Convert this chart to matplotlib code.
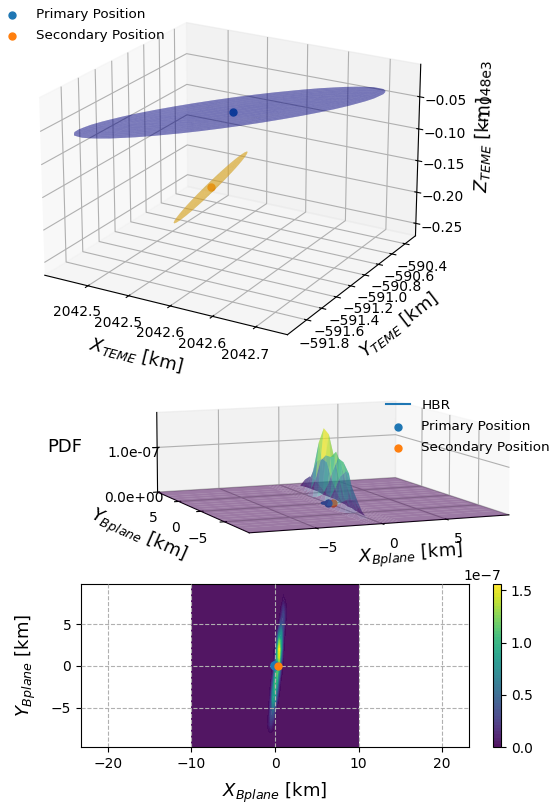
import numpy as np
import matplotlib
matplotlib.use("Agg")
import matplotlib.pyplot as plt
from matplotlib.ticker import FormatStrFormatter, ScalarFormatter

# ---- data ----
primary_teme = [2042.591, -591.15, -1048.047]
secondary_teme = [2042.5765, -591.29, -1048.156]
# ellipsoid semi-axis vectors in km
primary_axes = [[0.105, 0.875, 0.0], [0.0, 0.0, 0.018], [0.03, -0.01, 0.0]]
secondary_axes = [[0.02, 0.264, 0.041], [0.0, 0.028, -0.004], [0.006, -0.02, 0.0]]
x_ticks = [2042.50, 2042.55, 2042.60, 2042.65, 2042.70]
x_labels = ["2042.5", "2042.5", "2042.6", "2042.6", "2042.7"]
y_ticks = [-591.8, -591.6, -591.4, -591.2, -591.0, -590.8, -590.6, -590.4]
z_ticks = [-1048.25, -1048.20, -1048.15, -1048.10, -1048.05]
x_lim = (2042.446, 2042.736)
y_lim = (-592.05, -590.24)
z_lim = (-1048.27, -1048.0)

pdf_x = [-10, -1.0, -0.75, -0.5, -0.25, 0, 0.25, 0.5, 0.75, 1.0, 1.25, 1.5, 10]
pdf_y = [-10, -8, -7, -6, -5, -4, -3, -2, -1, 0, 1, 2, 3, 4, 5, 6, 7, 8, 10]
pdf_e7 = [
    [0, 0,    0,    0,    0,    0,    0,    0,    0,    0,    0,    0,    0],
    [0, 0,    0.02, 0.03, 0.01, 0,    0,    0,    0,    0,    0,    0,    0],
    [0, 0.01, 0.10, 0.22, 0.12, 0.02, 0,    0,    0,    0,    0,    0,    0],
    [0, 0,    0.05, 0.33, 0.35, 0.10, 0,    0,    0,    0,    0,    0,    0],
    [0, 0,    0.02, 0.30, 0.60, 0.30, 0.03, 0,    0,    0,    0,    0,    0],
    [0, 0,    0,    0.20, 0.85, 0.80, 0.20, 0,    0,    0,    0,    0,    0],
    [0, 0,    0,    0.10, 0.70, 1.00, 0.50, 0.05, 0,    0,    0,    0,    0],
    [0, 0,    0,    0.03, 0.40, 1.05, 0.90, 0.18, 0,    0,    0,    0,    0],
    [0, 0,    0,    0,    0.15, 0.75, 1.15, 0.55, 0.05, 0,    0,    0,    0],
    [0, 0,    0,    0,    0.05, 0.40, 1.00, 1.00, 0.20, 0,    0,    0,    0],
    [0, 0,    0,    0,    0,    0.15, 1.00, 1.45, 0.45, 0.03, 0,    0,    0],
    [0, 0,    0,    0,    0,    0.06, 0.85, 1.55, 0.80, 0.05, 0,    0,    0],
    [0, 0,    0,    0,    0,    0,    0.40, 1.20, 0.85, 0.10, 0,    0,    0],
    [0, 0,    0,    0,    0,    0,    0.12, 0.60, 0.75, 0.20, 0,    0,    0],
    [0, 0,    0,    0,    0,    0,    0,    0.10, 0.42, 0.30, 0.03, 0,    0],
    [0, 0,    0,    0,    0,    0,    0,    0,    0.15, 0.33, 0.10, 0,    0],
    [0, 0,    0,    0,    0,    0,    0,    0,    0.04, 0.22, 0.08, 0,    0],
    [0, 0,    0,    0,    0,    0,    0,    0,    0,    0.04, 0.02, 0,    0],
    [0, 0,    0,    0,    0,    0,    0,    0,    0,    0,    0,    0,    0],
]
primary_b = [0.0, 0.0]
secondary_b = [0.4, 0.0]
hbr_radius = 0.45
cbar_ticks = [0, 0.5e-7, 1.0e-7, 1.5e-7]

W, H = 556, 805
fig = plt.figure(figsize=(W / 100, H / 100), dpi=100)


def rect(l, t, r, b):
    return [l / W, 1 - b / H, (r - l) / W, (b - t) / H]


def ellipsoid(center, axes_vecs, n=40):
    u = np.linspace(0, 2 * np.pi, n)
    v = np.linspace(0, np.pi, n // 2)
    a, b, c = [np.array(k) for k in axes_vecs]
    pts = [center[i] + a[i] * np.outer(np.cos(u), np.sin(v))
           + b[i] * np.outer(np.sin(u), np.sin(v))
           + c[i] * np.outer(np.ones_like(u), np.cos(v)) for i in range(3)]
    return pts


# ---- top ----
ax = fig.add_axes(rect(13, -40, 443, 390), projection="3d")
ax.set_facecolor("none")
ax.view_init(elev=21.3, azim=-60)
ax.set_box_aspect((4, 4, 2.72), zoom=0.975)
ax.plot_surface(*ellipsoid(primary_teme, primary_axes), color="navy", alpha=0.3,
                linewidth=0, shade=False, rstride=1, cstride=1)
ax.plot_surface(*ellipsoid(secondary_teme, secondary_axes), color="goldenrod", alpha=0.45,
                linewidth=0, shade=False, rstride=1, cstride=1)
ax.scatter(*primary_teme, color="C0", s=25, depthshade=False, label="Primary Position", zorder=10)
ax.scatter(*secondary_teme, color="C1", s=25, depthshade=False, label="Secondary Position", zorder=10)
ax.set_xlim(x_lim)
ax.set_ylim(y_lim)
ax.set_zlim(z_lim)
ax.set_xticks(x_ticks)
ax.set_xticklabels(x_labels)
ax.set_yticks(y_ticks)
ax.yaxis.set_major_formatter(plt.FuncFormatter(lambda v, p: f"\u2212{abs(v):.1f}"))
ax.set_zticks(z_ticks)
ax.zaxis.set_major_formatter(ScalarFormatter(useOffset=True))
ax.zaxis.get_offset_text().set_rotation(90)
ax.set_xlabel(r"$X_{TEME}$ [km]", fontsize=13, labelpad=8)
ax.set_ylabel(r"$Y_{TEME}$ [km]", fontsize=13, labelpad=8)
ax.set_zlabel(r"$Z_{TEME}$ [km]", fontsize=13, labelpad=8)
ax.tick_params(labelsize=10)
ax.legend(loc="upper left", bbox_to_anchor=(-14 / W, 1 + 4 / H), bbox_transform=fig.transFigure,
          frameon=False, fontsize=9.7, labelspacing=0.6)

# ---- middle ----
X, Y = np.meshgrid(pdf_x, pdf_y)
Z = np.array(pdf_e7) * 1e-7
ax2 = fig.add_axes(rect(107, 253, 537, 683), projection="3d")
ax2.set_facecolor("none")
ax2.view_init(elev=8, azim=-112.5)
ax2.set_box_aspect((4, 4, 1.23), zoom=0.88)
ax2.plot_surface(X, Y, Z, cmap="viridis", alpha=0.5, linewidth=0, rstride=1, cstride=1)
theta = np.linspace(0, 2 * np.pi, 60)
ax2.plot(hbr_radius * np.cos(theta), hbr_radius * np.sin(theta), 0 * theta, color="C0", label="HBR")
ax2.scatter(*primary_b, 0, color="C0", s=25, depthshade=False, label="Primary Position", zorder=10)
ax2.scatter(*secondary_b, 0, color="C1", s=25, depthshade=False, label="Secondary Position", zorder=10)
ax2.set_xlim(-10, 10)
ax2.set_ylim(-10, 10)
ax2.set_zlim(0, 1.78e-7)
ax2.set_xticks([-5, 0, 5])
ax2.set_yticks([-5, 0, 5])
ax2.set_zticks([0, 1e-7])
ax2.zaxis.set_major_formatter(FormatStrFormatter("%.1e"))
ax2.set_xlabel(r"$X_{Bplane}$ [km]", fontsize=13, labelpad=18)
ax2.set_ylabel(r"$Y_{Bplane}$ [km]", fontsize=13, labelpad=18)
ax2.zaxis.set_rotate_label(False)
ax2.set_zlabel("PDF", fontsize=13, rotation=0, labelpad=25)
ax2.tick_params(labelsize=10)
ax2.tick_params(axis="x", pad=8)
ax2.tick_params(axis="y", pad=8)
ax2.legend(loc="upper left", bbox_to_anchor=(374 / W, 1 - 387 / H), bbox_transform=fig.transFigure,
           frameon=False, fontsize=9.7, labelspacing=0.6, handlelength=1.8)

# ---- bottom ----
ax3 = fig.add_axes(rect(81, 584, 469, 747))
cf = ax3.contourf(X, Y, Z, levels=60, cmap="viridis", vmin=0, vmax=1.55e-7, alpha=0.93)
ax3.scatter(*primary_b, color="C0", s=25, zorder=5)
ax3.scatter(*secondary_b, color="C1", s=25, zorder=6)
ax3.plot(hbr_radius * np.cos(theta), hbr_radius * np.sin(theta), color="C0", zorder=5)
ax3.grid(True, linestyle="--")
ax3.set_axisbelow(False)
ax3.set_xlim(-23.2, 23.2)
ax3.set_ylim(-9.73, 9.8)
ax3.set_xticks([-20, -10, 0, 10, 20])
ax3.set_yticks([-5, 0, 5])
ax3.set_xlabel(r"$X_{Bplane}$ [km]", fontsize=13, labelpad=7)
ax3.set_ylabel(r"$Y_{Bplane}$ [km]", fontsize=13, labelpad=9)
ax3.tick_params(labelsize=10)
cax = fig.add_axes(rect(493, 584, 501, 747))
cb = fig.colorbar(cf, cax=cax, ticks=cbar_ticks)
cb.ax.tick_params(labelsize=10)
cb.ax.yaxis.get_offset_text().set_fontsize(10)

fig.savefig("out.png", dpi=100)
